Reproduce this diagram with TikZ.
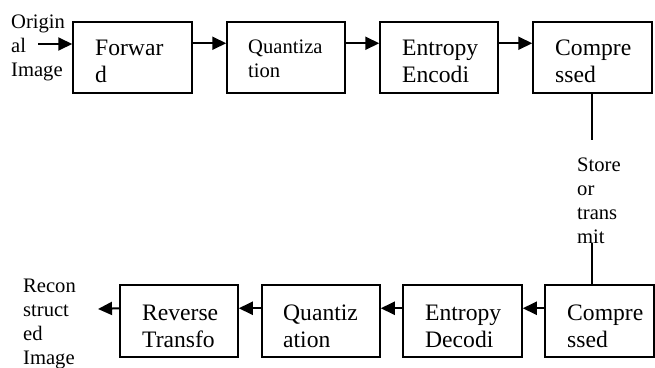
\documentclass[tikz,border=0pt]{standalone}
\usepackage{fontspec}
\setmainfont{Liberation Serif}
\usetikzlibrary{arrows.meta}
\newcommand\bigtxt{\fontsize{23.6}{27}\selectfont}
\newcommand\smalltxt{\fontsize{20.6}{24.3}\selectfont}
\tikzset{
  blk/.style={draw, line width=1.5pt, inner sep=0pt, minimum height=71pt},
  lbl/.style={inner sep=0pt, anchor=base west, align=left, text width=100pt},
  arr/.style={line width=2pt, -{Triangle[length=14pt,width=13pt]}},
  link/.style={line width=1.3pt}
}
\begin{document}
\begin{tikzpicture}[x=1pt,y=-1pt]
\useasboundingbox (0,0) rectangle (655,367);
% top row
\node[blk, minimum width=119pt] (fwd) at (132.5,57.5) {};
\node[blk, minimum width=118pt] (qt) at (286,57.5) {};
\node[blk, minimum width=118pt] (ee) at (439,57.5) {};
\node[blk, minimum width=119pt] (ct) at (592.5,57.5) {};
% bottom row
\node[blk, minimum width=118pt, minimum height=72pt] (rt) at (179,321) {};
\node[blk, minimum width=118pt, minimum height=72pt] (qb) at (321,321) {};
\node[blk, minimum width=119pt, minimum height=72pt] (ed) at (462.5,321) {};
\node[blk, minimum width=109pt, minimum height=72pt] (cb) at (599.5,321) {};
% texts
\node[lbl, font=\smalltxt] (tin) at (11,28) {Origin\\al\\Image};
\node[lbl, font=\bigtxt] (tfwd) at (95,55) {Forwar\\d};
\node[lbl, font=\smalltxt] (tqt) at (248,53) {Quantiza\\tion};
\node[lbl, font=\bigtxt] (tee) at (402,55) {Entropy\\Encodi};
\node[lbl, font=\bigtxt] (tct) at (555,55) {Compre\\ssed};
\node[lbl, font=\smalltxt] (tst) at (577,171) {Store\\or\\trans\\mit};
\node[lbl, font=\smalltxt] (tout) at (23,292) {Recon\\struct\\ed\\Image};
\node[lbl, font=\bigtxt] (trt) at (142,320) {Reverse\\Transfo};
\node[lbl, font=\bigtxt] (tqb) at (283,320) {Quantiz\\ation};
\node[lbl, font=\bigtxt] (ted) at (425,320) {Entropy\\Decodi};
\node[lbl, font=\bigtxt] (tcb) at (567,320) {Compre\\ssed};
% connectors
\coordinate (inp) at (38,44);
\coordinate (outp) at (98,309);
\coordinate (v1) at (592,140);
\coordinate (v2) at (592,243);
\draw[arr] (inp) -- (inp -| fwd.west);
\draw[arr] ([yshift=-22pt]fwd.north east) -- ([yshift=-22pt]qt.north west);
\draw[arr] ([yshift=-22pt]qt.north east) -- ([yshift=-22pt]ee.north west);
\draw[arr] ([yshift=-22pt]ee.north east) -- ([yshift=-22pt]ct.north west);
\draw[link] (ct.south -| v1) -- (v1);
\draw[link] (v2) -- (v2 |- cb.north);
\draw[arr] ([yshift=-24pt]cb.north west) -- ([yshift=-24pt]ed.north east);
\draw[arr] ([yshift=-24pt]ed.north west) -- ([yshift=-24pt]qb.north east);
\draw[arr] ([yshift=-24pt]qb.north west) -- ([yshift=-24pt]rt.north east);
\draw[arr] ([yshift=-24pt]rt.north west) -- (outp);
\end{tikzpicture}
\end{document}
